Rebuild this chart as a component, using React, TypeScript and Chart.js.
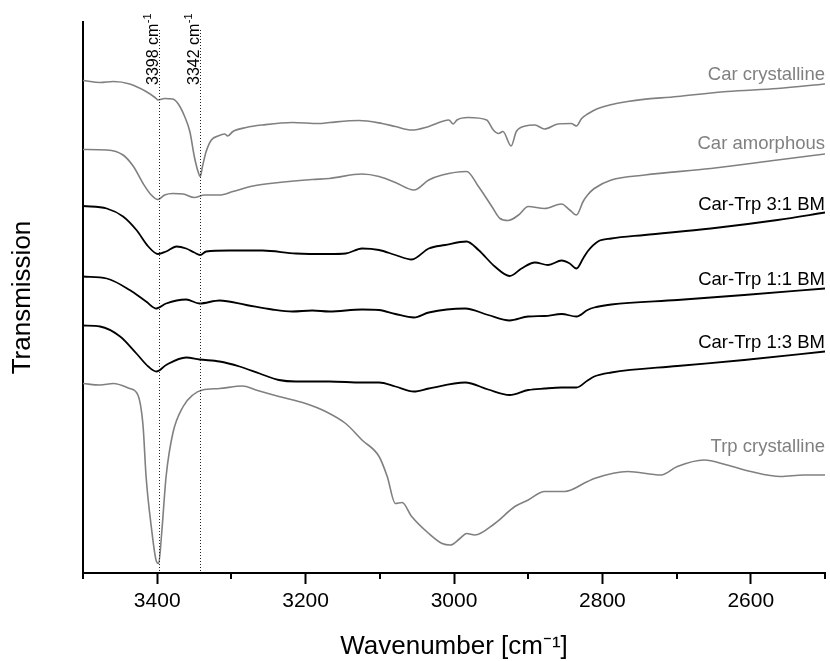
import { useEffect, useRef } from "react";
import { Chart, registerables } from "chart.js";
Chart.register(...registerables);

// Wavenumbers (cm^-1) and transmission (arbitrary units, offset traces)
const carCrystWn = [3500,3477,3459,3437,3415,3403,3399,3390,3379,3372,3363,3356,3350,3345,3342,3339,3334,3327,3318,3309,3305,3298,3280,3258,3218,3182,3168,3128,3097,3079,3057,3034,3007,3001,2996,2981,2956,2947,2940,2934,2923,2916,2904,2891,2878,2860,2842,2835,2828,2820,2806,2766,2699,2632,2564,2500];
const carCrystT = [98.5,98.1,98.3,97.8,96.3,95.1,94.6,94.9,94.8,93.9,91.3,88.3,83.3,80.3,79.3,81.3,84.3,86.6,87.4,87.8,87.4,88.3,89.1,89.6,90.1,89.9,90.1,90.5,89.9,89.3,88.6,89.3,90.6,89.8,90.6,91.1,90.6,88.6,87.9,88.3,85.4,88.3,89.4,89.6,88.8,89.8,89.9,89.4,90.9,91.8,92.9,94.3,95.3,96.3,96.9,97.8];

const carAmorphWn = [3500,3468,3446,3432,3419,3408,3399,3390,3379,3365,3350,3336,3316,3298,3271,3236,3191,3168,3124,3101,3079,3054,3034,3016,2983,2967,2949,2938,2927,2913,2900,2878,2855,2844,2835,2826,2820,2811,2788,2743,2654,2564,2500];
const carAmorphT = [84.7,84.6,83.6,81.3,77.9,75.6,74.7,75.6,75.9,75.8,75.1,75.6,75.6,76.3,77.4,78.1,78.7,78.9,79.8,79.3,78.1,76.6,78.6,79.6,80.3,77.3,73.3,70.9,70.5,71.6,73.3,72.9,73.8,72.6,71.6,74.3,75.6,76.9,78.6,79.6,80.9,82.6,83.8];

const bm31Wn = [3500,3468,3446,3428,3412,3399,3388,3374,3361,3350,3342,3334,3303,3258,3213,3168,3146,3124,3101,3079,3057,3034,3012,2983,2967,2945,2925,2909,2891,2873,2855,2844,2835,2826,2820,2806,2788,2743,2654,2564,2500];
const bm31T = [73.4,72.9,71.3,68.6,65.3,63.8,64.3,65.3,64.9,64.1,63.6,64.3,64.5,64.5,63.9,63.8,63.9,64.9,64.6,63.6,62.7,64.9,65.6,66.3,64.6,61.3,59.4,60.9,62.1,61.6,62.5,61.9,60.9,62.9,64.3,66.3,66.9,67.6,68.9,70.6,72.1];

const bm11Wn = [3500,3468,3437,3415,3401,3388,3361,3343,3316,3280,3245,3218,3191,3168,3124,3101,3079,3054,3034,2985,2954,2925,2900,2878,2855,2835,2820,2811,2788,2699,2609,2500];
const bm11T = [59.3,58.9,56.6,54.3,52.9,53.9,54.7,53.9,54.5,53.6,52.7,52.3,52.5,52.3,52.7,52.6,51.8,51.1,52.1,52.9,51.6,50.5,51.3,51.4,51.8,51.3,52.6,53.1,53.7,54.6,55.6,56.9];

const bm13Wn = [3500,3477,3450,3428,3412,3401,3388,3361,3343,3316,3289,3262,3236,3213,3168,3124,3101,3079,3054,3034,2985,2954,2925,2900,2878,2855,2835,2820,2811,2788,2699,2609,2500];
const bm13T = [49.5,49.3,47.3,43.9,41.3,40.3,41.6,43.1,42.7,42.3,41.3,39.9,38.6,38.3,38.3,38.1,38.1,37.3,36.3,36.9,38.1,36.7,35.6,36.6,36.9,37.1,37.1,38.5,39.3,40.1,41.4,42.6,44.3];

const trpCrystWn = [3500,3477,3459,3437,3426,3419,3415,3408,3401,3398,3394,3388,3379,3365,3352,3339,3316,3285,3267,3236,3200,3173,3146,3124,3101,3090,3079,3070,3057,3034,3016,3005,2992,2983,2972,2945,2918,2900,2878,2851,2820,2811,2766,2721,2699,2663,2632,2600,2560,2529,2500];
const trpCrystT = [37.9,37.6,37.9,36.9,35.6,29.3,19.3,9.3,2.3,1.9,7.9,19.3,27.9,33.3,35.6,36.6,36.9,37.4,36.6,35.3,33.9,32.3,29.9,26.6,23.3,19.3,13.9,14.1,11.3,7.9,5.9,5.6,6.9,7.9,7.6,9.9,13.3,14.6,16.3,16.3,18.3,18.9,20.3,19.6,21.3,22.6,21.6,20.3,19.3,19.6,19.6];

const seriesNames = ["Car crystalline", "Car amorphous", "Car-Trp 3:1 BM", "Car-Trp 1:1 BM", "Car-Trp 1:3 BM", "Trp crystalline"];
const seriesLabelY = [99.6, 85.9, 73.7, 58.7, 46.0, 25.3];
const markerWn = [3398, 3342];
const majorTicks = [3400, 3200, 3000, 2800, 2600];
const minorTicks = [3500, 3300, 3100, 2900, 2700, 2500];

const GRAY = "#808080";
const BLACK = "#000000";
const FONT = '"Liberation Sans", Arial, sans-serif';

const annotPlugin = {
  id: "annot",
  afterDatasetsDraw(chart: any) {
    const { ctx, scales } = chart;
    const x = scales.x;
    const y = scales.y;
    ctx.save();
    // minor ticks
    ctx.strokeStyle = "#000";
    ctx.lineWidth = 2;
    minorTicks.forEach((v) => {
      const px = Math.round(x.getPixelForValue(v));
      ctx.beginPath();
      ctx.moveTo(px, y.bottom);
      ctx.lineTo(px, y.bottom + 6);
      ctx.stroke();
    });
    // dotted marker lines and labels
    markerWn.forEach((m) => {
      const px = Math.round(x.getPixelForValue(m)) + 0.5;
      ctx.save();
      ctx.setLineDash([1, 2]);
      ctx.lineWidth = 1;
      ctx.strokeStyle = "#222";
      ctx.beginPath();
      ctx.moveTo(px, y.getPixelForValue(108.6));
      ctx.lineTo(px, y.bottom);
      ctx.stroke();
      ctx.restore();
      ctx.save();
      ctx.translate(px - 1.5, y.getPixelForValue(97.6));
      ctx.rotate(-Math.PI / 2);
      ctx.fillStyle = "#000";
      ctx.textAlign = "left";
      ctx.textBaseline = "alphabetic";
      ctx.font = `16px ${FONT}`;
      const t = `${m} cm`;
      ctx.fillText(t, 0, 0);
      const w = ctx.measureText(t).width;
      ctx.font = `11px ${FONT}`;
      ctx.fillText("-1", w + 0.5, -7.5);
      ctx.restore();
    });
    // series labels
    ctx.font = `18.5px ${FONT}`;
    ctx.textAlign = "right";
    ctx.textBaseline = "middle";
    const rx = x.getPixelForValue(2500);
    seriesNames.forEach((n, i) => {
      ctx.fillStyle = chart.data.datasets[i].borderColor;
      ctx.fillText(n, rx, y.getPixelForValue(seriesLabelY[i]));
    });
    ctx.restore();
  },
};

export default function App() {
  const ref = useRef<HTMLCanvasElement>(null);
  useEffect(() => {
    document.body.style.margin = "0";
    const canvas = ref.current!;
    const series = [
      { wn: carCrystWn, t: carCrystT, color: GRAY, w: 1.6 },
      { wn: carAmorphWn, t: carAmorphT, color: GRAY, w: 1.6 },
      { wn: bm31Wn, t: bm31T, color: BLACK, w: 1.8 },
      { wn: bm11Wn, t: bm11T, color: BLACK, w: 1.8 },
      { wn: bm13Wn, t: bm13T, color: BLACK, w: 1.8 },
      { wn: trpCrystWn, t: trpCrystT, color: GRAY, w: 1.6 },
    ];
    const chart = new Chart(canvas, {
      type: "line",
      data: {
        datasets: series.map((s, i) => ({
          label: seriesNames[i],
          data: s.wn.map((xv, j) => ({ x: xv, y: s.t[j] })),
          borderColor: s.color,
          backgroundColor: s.color,
          borderWidth: s.w,
          pointRadius: 0,
          fill: false,
          cubicInterpolationMode: "monotone" as const,
        })),
      },
      options: {
        animation: false,
        responsive: false,
        devicePixelRatio: 1,
        layout: { padding: { top: 22, right: 2, left: 0, bottom: 0 } },
        plugins: { legend: { display: false }, tooltip: { enabled: false } },
        scales: {
          x: {
            type: "linear",
            reverse: true,
            min: 2500,
            max: 3500,
            afterFit: (s: any) => {
              s.height = 88;
            },
            ticks: {
              stepSize: 100,
              autoSkip: false,
              maxRotation: 0,
              padding: 5,
              color: "#000",
              font: { size: 21, family: FONT },
              callback: (v: any) => (majorTicks.includes(Number(v)) ? String(v) : ""),
            },
            grid: {
              drawOnChartArea: false,
              drawTicks: true,
              tickLength: 11,
              tickWidth: 2,
              tickColor: (c: any) => (c.tick && majorTicks.includes(c.tick.value) ? "#000" : "rgba(0,0,0,0)"),
            },
            border: { color: "#000", width: 2 },
            title: {
              display: true,
              text: "Wavenumber [cm⁻¹]",
              color: "#000",
              font: { size: 26, family: FONT, lineHeight: 1 },
              padding: { top: 0, bottom: 1 },
            },
          },
          y: {
            min: 0,
            max: 110.2,
            afterFit: (s: any) => {
              s.width = 83;
            },
            ticks: { display: false },
            grid: { drawOnChartArea: false, drawTicks: false },
            border: { color: "#000", width: 2 },
            title: {
              display: true,
              text: "Transmission",
              color: "#000",
              font: { size: 26, family: FONT, lineHeight: 1 },
              padding: { top: 10, bottom: 0 },
            },
          },
        },
      },
      plugins: [annotPlugin],
    });
    return () => chart.destroy();
  }, []);
  return (
    <div style={{ width: 830, height: 661 }}>
      <canvas ref={ref} width={830} height={661} />
    </div>
  );
}
